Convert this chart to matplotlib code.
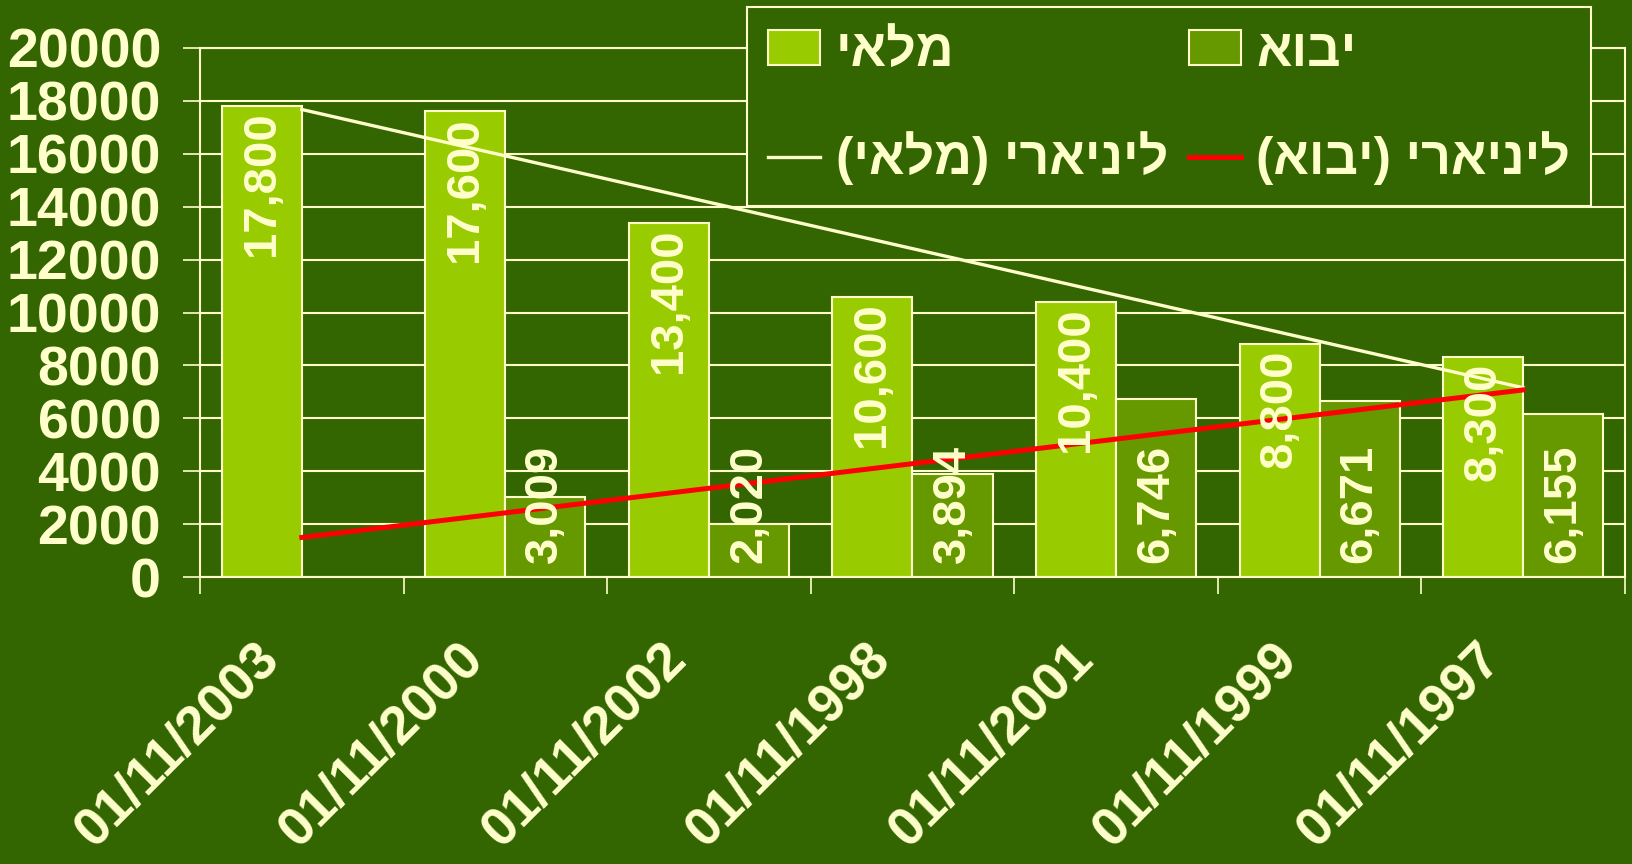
import numpy as np
import matplotlib
matplotlib.use("Agg")
import matplotlib.pyplot as plt
from matplotlib.patches import Patch
from matplotlib.lines import Line2D
from matplotlib.transforms import ScaledTranslation

dates = ["01/11/2003", "01/11/2000", "01/11/2002", "01/11/1998",
         "01/11/2001", "01/11/1999", "01/11/1997"]
malai = [17800, 17600, 13400, 10600, 10400, 8800, 8300]
yevu = [np.nan, 3009, 2020, 3894, 6746, 6671, 6155]
series_names = ["מלאי", "יבוא"]
trend_names = ["ליניארי (מלאי)", "ליניארי (יבוא)"]
y_ticks = list(range(0, 20001, 2000))

BG = "#336600"
FG = "#FFFFCC"
C_MALAI = "#99CC00"
C_YEVU = "#669900"
C_TREND_YEVU = "#FF0000"

plt.rcParams["font.family"] = ["Liberation Sans", "DejaVu Sans"]
plt.rcParams["font.weight"] = "bold"


def rtl(s):
    # matplotlib has no bidi support, so lay out hebrew visually
    return s[::-1].translate(str.maketrans("()", ")("))


def trend(x, y):
    x = np.asarray(x, dtype=float)
    y = np.asarray(y, dtype=float)
    ok = ~np.isnan(y)
    k, b = np.polyfit(x[ok], y[ok], 1)
    return k * x + b


def main():
    fig = plt.figure(figsize=(16.33, 8.64), dpi=100, facecolor=BG)
    ax = fig.add_axes([200 / 1633, 1 - 577 / 864, 1425 / 1633, 529 / 864])
    ax.set_facecolor(BG)

    x = np.arange(len(dates))
    w = 0.393
    ax.bar(x - w / 2, malai, width=w, color=C_MALAI, edgecolor=FG, linewidth=1.5, zorder=2)
    ax.bar(x + w / 2, yevu, width=w, color=C_YEVU, edgecolor=FG, linewidth=1.5, zorder=2)

    ax.plot(x, trend(x, malai), color=FG, linewidth=2.4, zorder=3)
    ax.plot(x, trend(x, yevu), color=C_TREND_YEVU, linewidth=3.6, zorder=3)

    for xi, v in zip(x, malai):
        ax.annotate(f"{v:,.0f}", (xi - w / 2, v), xytext=(0, -4), textcoords="offset points",
                    rotation=90, ha="center", va="top", color=FG, fontsize=34,
                    fontweight="bold", zorder=4)
    for xi, v in zip(x, yevu):
        if np.isnan(v):
            continue
        ax.annotate(f"{v:,.0f}", (xi + w / 2, 0), xytext=(0, 10), textcoords="offset points",
                    rotation=90, ha="center", va="bottom", color=FG, fontsize=34,
                    fontweight="bold", zorder=4)

    ax.set_xlim(-0.5, len(dates) - 0.5)
    ax.set_ylim(0, 20000)
    ax.set_yticks(y_ticks)
    ax.set_yticklabels([str(t) for t in y_ticks])
    ax.grid(axis="y", color=FG, linewidth=1.5, zorder=1)
    ax.set_axisbelow(True)

    # category boundaries get the tick marks, centres get the labels
    ax.set_xticks(np.arange(len(dates) + 1) - 0.5)
    ax.set_xticklabels([])
    ax.set_xticks(x, minor=True)
    ax.set_xticklabels(dates, minor=True, rotation=45, rotation_mode="anchor",
                       ha="right", va="center", fontsize=38.5, fontweight="bold", color=FG)
    ax.tick_params(axis="x", which="major", length=12, width=1.2, color=FG, direction="out")
    ax.tick_params(axis="x", which="minor", length=0, pad=53)
    ax.tick_params(axis="y", length=12, width=1.2, color=FG, direction="out", pad=16,
                   labelsize=40, labelcolor=FG)
    for lab in ax.get_yticklabels():
        lab.set_fontweight("bold")
    for lab in ax.get_xticklabels(minor=True):
        lab.set_transform(lab.get_transform() + ScaledTranslation(-0.3, 0, fig.dpi_scale_trans))

    for s in ax.spines.values():
        s.set_color(FG)
        s.set_linewidth(1.5)

    handles = [
        Patch(facecolor=C_MALAI, edgecolor=FG, linewidth=1.5),
        Line2D([], [], color=FG, linewidth=2.4),
        Patch(facecolor=C_YEVU, edgecolor=FG, linewidth=1.5),
        Line2D([], [], color=C_TREND_YEVU, linewidth=3.6),
    ]
    labels = [rtl(series_names[0]), rtl(trend_names[0]), rtl(series_names[1]), rtl(trend_names[1])]
    leg = ax.legend(handles, labels, ncol=2, loc="upper left",
                    bbox_to_anchor=(747 / 1633, 1 - 7 / 864), bbox_transform=fig.transFigure,
                    fontsize=37.5, frameon=True, fancybox=False, framealpha=1,
                    facecolor=BG, edgecolor=FG, borderpad=0.4, labelspacing=1.05,
                    handlelength=1.0, handleheight=0.65, handletextpad=0.3, columnspacing=0.4,
                    borderaxespad=0)
    leg.get_frame().set_linewidth(1.5)
    leg.set_zorder(5)
    for t in leg.get_texts():
        t.set_color(FG)
        t.set_fontweight("bold")

    fig.savefig("out.png", dpi=100, facecolor=BG)


if __name__ == "__main__":
    main()
